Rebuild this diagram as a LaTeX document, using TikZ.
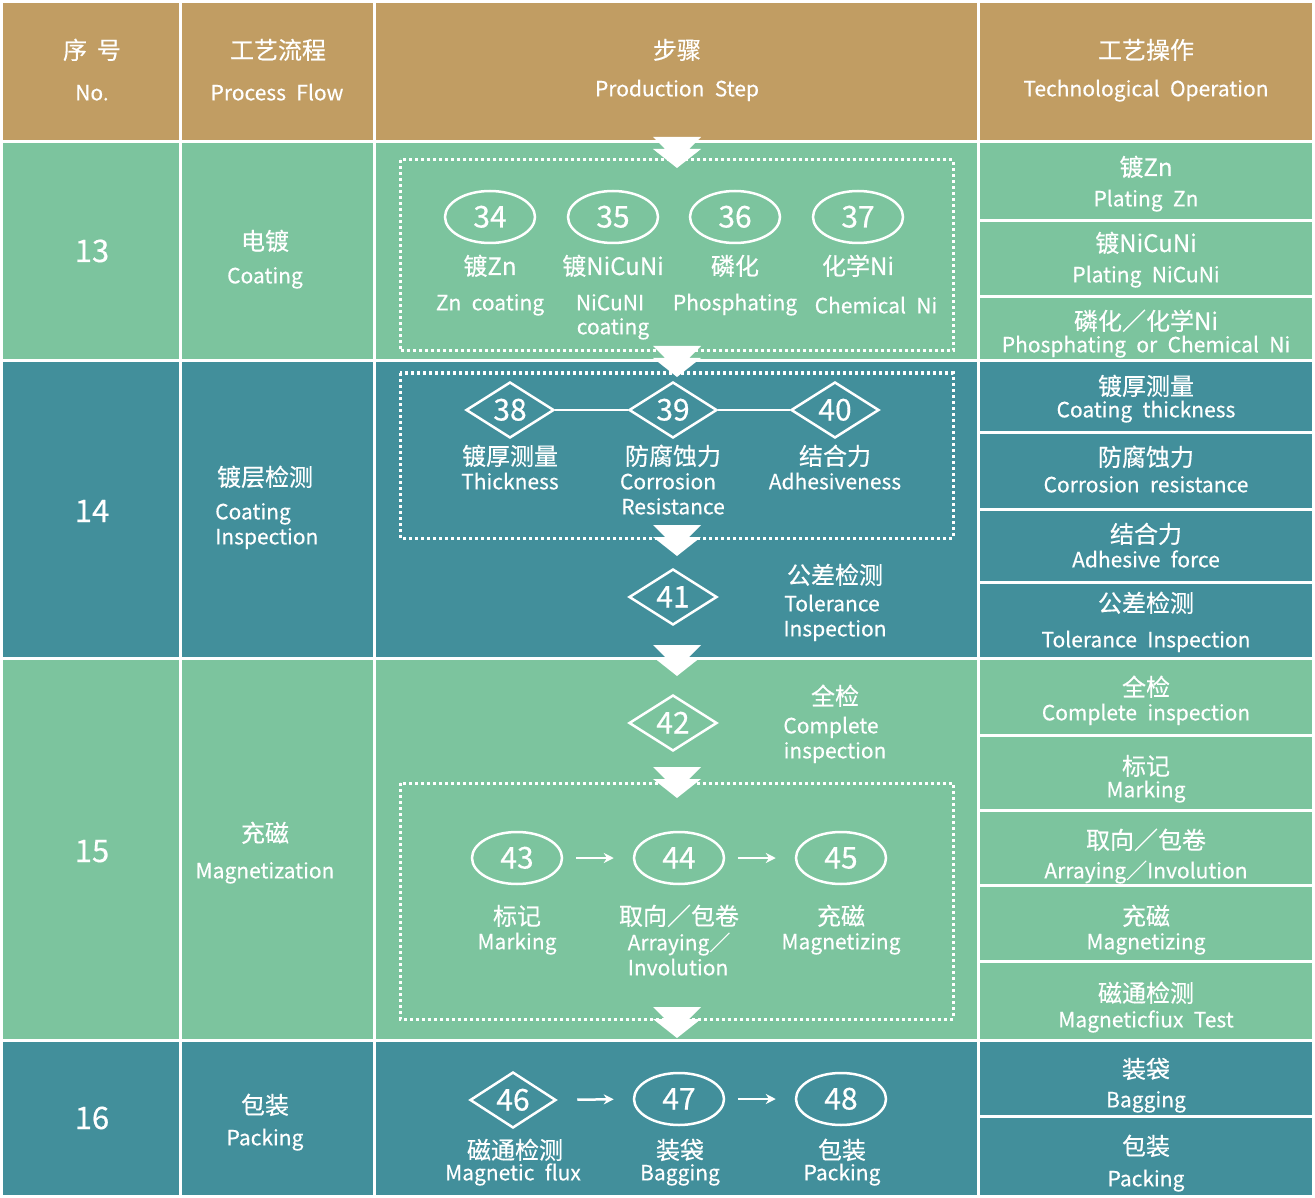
\documentclass[tikz,border=0pt]{standalone}
\usepackage{fontspec}
\setmainfont{Noto Sans CJK SC}[WordSpace=2.2, FakeBold=0.4]
\usetikzlibrary{shapes.geometric,arrows.meta}
\definecolor{tanc}{RGB}{193,157,99}
\definecolor{greenc}{RGB}{124,196,158}
\definecolor{tealc}{RGB}{66,143,155}
\tikzset{
  zh/.style={text=white, inner sep=0pt, font=\fontsize{24}{24}\selectfont, text height=21pt, text depth=3pt},
  en/.style={text=white, inner sep=0pt, font=\fontsize{21}{21}\selectfont, text height=14.7pt, text depth=0pt},
  big/.style={text=white, inner sep=0pt, font=\fontsize{31}{31}\selectfont, text height=22pt, text depth=0pt},
  oval/.style={ellipse, draw=white, line width=2.5pt, minimum width=90pt, minimum height=52pt, inner sep=0pt, text=white, font=\fontsize{30}{30}\selectfont, text height=21pt, text depth=0pt},
  dia/.style={diamond, draw=white, line width=2.5pt, minimum width=88pt, minimum height=56pt, inner sep=0pt, text=white, font=\fontsize{30}{30}\selectfont, text height=21pt, text depth=0pt},
  dotbox/.style={draw=white, line width=3pt, dash pattern=on 3pt off 3pt},
  link/.style={draw=white, line width=2.5pt},
  flow/.style={draw=white, line width=2.5pt, -{Stealth[length=10pt,width=10pt]}},
  chev/.pic={\fill[white] (-24,0) -- (24,0) -- (12,12) -- (24,12) -- (0,31) -- (-24,12) -- (-12,12) -- cycle;}
}
\begin{document}
\begin{tikzpicture}[x=1pt,y=-1pt]
\useasboundingbox (0,0) rectangle (1315,1198);
\fill[white] (0,0) rectangle (1315,1198);
% header
\fill[tanc] (3,3) rectangle (179,140);
\fill[tanc] (182,3) rectangle (373,140);
\fill[tanc] (376,3) rectangle (977,140);
\fill[tanc] (980,3) rectangle (1312,140);
% row 13
\fill[greenc] (3,143) rectangle (179,359);
\fill[greenc] (182,143) rectangle (373,359);
\fill[greenc] (376,143) rectangle (977,359);
\fill[greenc] (980,143) rectangle (1312,219);
\fill[greenc] (980,222) rectangle (1312,295);
\fill[greenc] (980,298) rectangle (1312,359);
% row 14
\fill[tealc] (3,362) rectangle (179,657);
\fill[tealc] (182,362) rectangle (373,657);
\fill[tealc] (376,362) rectangle (977,657);
\fill[tealc] (980,362) rectangle (1312,431);
\fill[tealc] (980,434) rectangle (1312,508);
\fill[tealc] (980,511) rectangle (1312,581);
\fill[tealc] (980,584) rectangle (1312,657);
% row 15
\fill[greenc] (3,660) rectangle (179,1039);
\fill[greenc] (182,660) rectangle (373,1039);
\fill[greenc] (376,660) rectangle (977,1039);
\fill[greenc] (980,660) rectangle (1312,734);
\fill[greenc] (980,737) rectangle (1312,809);
\fill[greenc] (980,812) rectangle (1312,884);
\fill[greenc] (980,887) rectangle (1312,960);
\fill[greenc] (980,963) rectangle (1312,1039);
% row 16
\fill[tealc] (3,1042) rectangle (179,1195);
\fill[tealc] (182,1042) rectangle (373,1195);
\fill[tealc] (376,1042) rectangle (977,1195);
\fill[tealc] (980,1042) rectangle (1312,1115);
\fill[tealc] (980,1118) rectangle (1312,1195);

% header texts
\node[zh] (h1a) at (92,50) {序\hspace{10pt}号};
\node[en] (h1b) at (92,93) {No.};
\node[zh] (h2a) at (278,50) {工艺流程};
\node[en] (h2b) at (277,93) {Process Flow};
\node[zh] (h3a) at (677,50) {步骤};
\node[en] (h3b) at (677,89) {Production Step};
\node[zh] (h4a) at (1146,50) {工艺操作};
\node[en] (h4b) at (1146,89) {Technological Operation};

% numbers column
\node[big] (n13) at (92,251) {13};
\node[big] (n14) at (92,511) {14};
\node[big] (n15) at (92,851) {15};
\node[big] (n16) at (92,1118) {16};

% process flow column
\node[zh] (p13a) at (265,241) {电镀};
\node[en] (p13b) at (265,276) {Coating};
\node[zh] (p14a) at (265,477) {镀层检测};
\node[en, anchor=west] (p14b) at (215,512) {Coating};
\node[en, anchor=west] (p14c) at (215,537) {Inspection};
\node[zh] (p15a) at (265,833) {充磁};
\node[en] (p15b) at (265,871) {Magnetization};
\node[zh] (p16a) at (265,1105) {包装};
\node[en] (p16b) at (265,1138) {Packing};

% right column
\node[zh] (r1a) at (1146,167) {镀Zn};
\node[en] (r1b) at (1146,199) {Plating Zn};
\node[zh] (r2a) at (1146,243) {镀NiCuNi};
\node[en] (r2b) at (1146,275) {Plating NiCuNi};
\node[zh] (r3a) at (1146,321) {磷化／化学Ni};
\node[en] (r3b) at (1146,345) {Phosphating or Chemical Ni};
\node[zh] (r4a) at (1146,386) {镀厚测量};
\node[en] (r4b) at (1146,410) {Coating thickness};
\node[zh] (r5a) at (1146,457) {防腐蚀力};
\node[en] (r5b) at (1146,485) {Corrosion resistance};
\node[zh] (r6a) at (1146,534) {结合力};
\node[en] (r6b) at (1146,560) {Adhesive force};
\node[zh] (r7a) at (1146,603) {公差检测};
\node[en] (r7b) at (1146,640) {Tolerance Inspection};
\node[zh] (r8a) at (1146,687) {全检};
\node[en] (r8b) at (1146,713) {Complete inspection};
\node[zh] (r9a) at (1146,766) {标记};
\node[en] (r9b) at (1146,790) {Marking};
\node[zh] (r10a) at (1146,840) {取向／包卷};
\node[en] (r10b) at (1146,871) {Arraying／Involution};
\node[zh] (r11a) at (1146,916) {充磁};
\node[en] (r11b) at (1146,942) {Magnetizing};
\node[zh] (r12a) at (1146,993) {磁通检测};
\node[en] (r12b) at (1146,1020) {Magneticfiux Test};
\node[zh] (r13a) at (1146,1069) {装袋};
\node[en] (r13b) at (1146,1100) {Bagging};
\node[zh] (r14a) at (1146,1146) {包装};
\node[en] (r14b) at (1146,1179) {Packing};

% dotted boxes
\draw[dotbox] (400,160) rectangle (953,351);
\draw[dotbox] (400,373) rectangle (953,538);
\draw[dotbox] (400,783) rectangle (953,1019);

% chevrons
\pic at (677,137) {chev};
\pic at (677,346) {chev};
\pic at (677,525) {chev};
\pic at (677,645) {chev};
\pic at (677,767) {chev};
\pic at (677,1007) {chev};

% row 13 steps
\node[oval] (s34) at (490,217) {34};
\node[oval] (s35) at (613,217) {35};
\node[oval] (s36) at (735,217) {36};
\node[oval] (s37) at (858,217) {37};
\node[zh] (l34a) at (490,266) {镀Zn};
\node[en] (l34b) at (490,303) {Zn coating};
\node[zh] (l35a) at (613,266) {镀NiCuNi};
\node[en] (l35b) at (610,303) {NiCuNI};
\node[en] (l35c) at (613,327) {coating};
\node[zh] (l36a) at (735,266) {磷化};
\node[en] (l36b) at (735,303) {Phosphating};
\node[zh] (l37a) at (858,266) {化学Ni};
\node[en] (l37b) at (876,306) {Chemical Ni};

% row 14 steps
\node[dia] (s38) at (510,410) {38};
\node[dia] (s39) at (673,410) {39};
\node[dia] (s40) at (835,410) {40};
\draw[link] (s38.east) -- (s39.west);
\draw[link] (s39.east) -- (s40.west);
\node[zh] (l38a) at (510,456) {镀厚测量};
\node[en] (l38b) at (510,482) {Thickness};
\node[zh] (l39a) at (673,456) {防腐蚀力};
\node[en] (l39b) at (668,482) {Corrosion};
\node[en] (l39c) at (673,507) {Resistance};
\node[zh] (l40a) at (835,456) {结合力};
\node[en] (l40b) at (835,482) {Adhesiveness};
\node[dia] (s41) at (673,597) {41};
\node[zh] (l41a) at (835,575) {公差检测};
\node[en] (l41b) at (832,604) {Tolerance};
\node[en] (l41c) at (835,629) {Inspection};

% row 15 steps
\node[dia] (s42) at (673,723) {42};
\node[zh] (l42a) at (835,696) {全检};
\node[en] (l42b) at (831,726) {Complete};
\node[en] (l42c) at (835,751) {inspection};
\node[oval] (s43) at (517,858) {43};
\node[oval] (s44) at (679,858) {44};
\node[oval] (s45) at (841,858) {45};
\draw[flow, shorten <=13pt, shorten >=19pt] (s43.east) -- (s44.west);
\draw[flow, shorten <=13pt, shorten >=19pt] (s44.east) -- (s45.west);
\node[zh] (l43a) at (517,916) {标记};
\node[en] (l43b) at (517,942) {Marking};
\node[zh] (l44a) at (679,916) {取向／包卷};
\node[en] (l44b) at (679,943) {Arraying／};
\node[en] (l44c) at (678,968) {Involution};
\node[zh] (l45a) at (841,916) {充磁};
\node[en] (l45b) at (841,942) {Magnetizing};

% row 16 steps
\node[dia, minimum width=86pt] (s46) at (513,1100) {46};
\node[oval] (s47) at (679,1099) {47};
\node[oval] (s48) at (841,1099) {48};
\draw[flow, shorten <=20pt, shorten >=19pt] (s46.east) -- (s47.west);
\draw[flow, shorten <=13pt, shorten >=19pt] (s47.east) -- (s48.west);
\node[zh] (l46a) at (515,1150) {磁通检测};
\node[en] (l46b) at (513,1173) {Magnetic flux};
\node[zh] (l47a) at (680,1150) {装袋};
\node[en] (l47b) at (680,1173) {Bagging};
\node[zh] (l48a) at (842,1150) {包装};
\node[en] (l48b) at (842,1173) {Packing};
\end{tikzpicture}
\end{document}
